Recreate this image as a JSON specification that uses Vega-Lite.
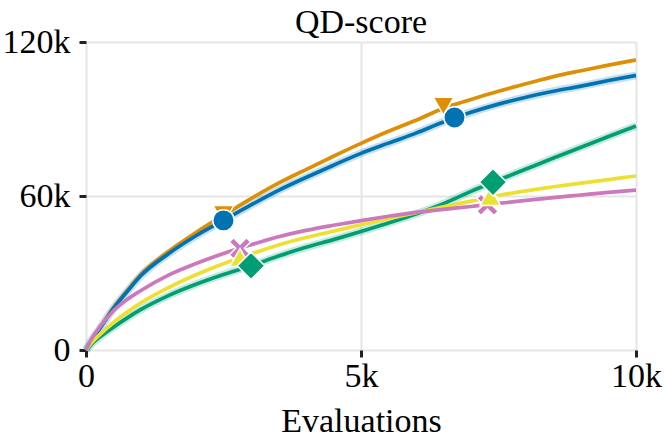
{
  "$schema": "https://vega.github.io/schema/vega-lite/v6.json",
  "width": 550,
  "height": 308,
  "autosize": {"type": "none"},
  "padding": {"left": 86, "top": 42, "right": 28, "bottom": 89},
  "background": "white",
  "title": {"text": "QD-score", "fontSize": 34, "font": "Liberation Serif", "fontWeight": "normal", "color": "black", "offset": -15},
  "datasets": {
    "curves": [
      {"s": "A", "e": 0, "v": 0}, {"s": "A", "e": 100, "v": 3900}, {"s": "A", "e": 250, "v": 8600}, {"s": "A", "e": 500, "v": 16500},
      {"s": "A", "e": 750, "v": 23200}, {"s": "A", "e": 1000, "v": 29500},
      {"s": "A", "e": 1500, "v": 38400}, {"s": "A", "e": 2000, "v": 45800}, {"s": "A", "e": 2500, "v": 52500}, {"s": "A", "e": 3000, "v": 59000},
      {"s": "A", "e": 3500, "v": 65000}, {"s": "A", "e": 4000, "v": 70300}, {"s": "A", "e": 4500, "v": 75500}, {"s": "A", "e": 5000, "v": 80500},
      {"s": "A", "e": 5500, "v": 85200}, {"s": "A", "e": 6000, "v": 89500}, {"s": "A", "e": 6500, "v": 94200}, {"s": "A", "e": 7000, "v": 97600},
      {"s": "A", "e": 7500, "v": 100800}, {"s": "A", "e": 8000, "v": 103700}, {"s": "A", "e": 8500, "v": 106500}, {"s": "A", "e": 9000, "v": 108800},
      {"s": "A", "e": 9500, "v": 111000}, {"s": "A", "e": 10000, "v": 113000},
      {"s": "B", "e": 0, "v": 0}, {"s": "B", "e": 100, "v": 3800}, {"s": "B", "e": 250, "v": 8300}, {"s": "B", "e": 500, "v": 16200},
      {"s": "B", "e": 750, "v": 22800}, {"s": "B", "e": 1000, "v": 29000},
      {"s": "B", "e": 1500, "v": 37500}, {"s": "B", "e": 2000, "v": 44500}, {"s": "B", "e": 2500, "v": 50500}, {"s": "B", "e": 3000, "v": 56500},
      {"s": "B", "e": 3500, "v": 62200}, {"s": "B", "e": 4000, "v": 67200}, {"s": "B", "e": 4500, "v": 72000}, {"s": "B", "e": 5000, "v": 76600},
      {"s": "B", "e": 5500, "v": 80600}, {"s": "B", "e": 6000, "v": 84500}, {"s": "B", "e": 6500, "v": 88800}, {"s": "B", "e": 7000, "v": 92600},
      {"s": "B", "e": 7500, "v": 95800}, {"s": "B", "e": 8000, "v": 98500}, {"s": "B", "e": 8500, "v": 100800}, {"s": "B", "e": 9000, "v": 102800},
      {"s": "B", "e": 9500, "v": 105000}, {"s": "B", "e": 10000, "v": 107000},
      {"s": "C", "e": 0, "v": 0}, {"s": "C", "e": 100, "v": 2300}, {"s": "C", "e": 250, "v": 5000}, {"s": "C", "e": 500, "v": 8900},
      {"s": "C", "e": 750, "v": 12500}, {"s": "C", "e": 1000, "v": 15800},
      {"s": "C", "e": 1500, "v": 21200}, {"s": "C", "e": 2000, "v": 25600}, {"s": "C", "e": 2500, "v": 29400}, {"s": "C", "e": 3000, "v": 32800},
      {"s": "C", "e": 3500, "v": 36600}, {"s": "C", "e": 4000, "v": 40000}, {"s": "C", "e": 4500, "v": 43000}, {"s": "C", "e": 5000, "v": 46200},
      {"s": "C", "e": 5500, "v": 49500}, {"s": "C", "e": 6000, "v": 53000}, {"s": "C", "e": 6500, "v": 57000}, {"s": "C", "e": 7000, "v": 61800},
      {"s": "C", "e": 7500, "v": 66200}, {"s": "C", "e": 8000, "v": 70500}, {"s": "C", "e": 8500, "v": 74800}, {"s": "C", "e": 9000, "v": 79000},
      {"s": "C", "e": 9500, "v": 83200}, {"s": "C", "e": 10000, "v": 87300},
      {"s": "D", "e": 0, "v": 0}, {"s": "D", "e": 100, "v": 2800}, {"s": "D", "e": 250, "v": 6000}, {"s": "D", "e": 500, "v": 10700},
      {"s": "D", "e": 750, "v": 14800}, {"s": "D", "e": 1000, "v": 18400},
      {"s": "D", "e": 1500, "v": 24300}, {"s": "D", "e": 2000, "v": 29300}, {"s": "D", "e": 2500, "v": 33600}, {"s": "D", "e": 3000, "v": 37400},
      {"s": "D", "e": 3500, "v": 40900}, {"s": "D", "e": 4000, "v": 43800}, {"s": "D", "e": 4500, "v": 46300}, {"s": "D", "e": 5000, "v": 48800},
      {"s": "D", "e": 5500, "v": 51200}, {"s": "D", "e": 6000, "v": 53500}, {"s": "D", "e": 6500, "v": 55800}, {"s": "D", "e": 7000, "v": 58000},
      {"s": "D", "e": 7500, "v": 60200}, {"s": "D", "e": 8000, "v": 62000}, {"s": "D", "e": 8500, "v": 63600}, {"s": "D", "e": 9000, "v": 65000},
      {"s": "D", "e": 9500, "v": 66400}, {"s": "D", "e": 10000, "v": 67800},
      {"s": "E", "e": 0, "v": 0}, {"s": "E", "e": 100, "v": 4300}, {"s": "E", "e": 250, "v": 9000}, {"s": "E", "e": 500, "v": 15300},
      {"s": "E", "e": 750, "v": 19700}, {"s": "E", "e": 1000, "v": 23200},
      {"s": "E", "e": 1500, "v": 29200}, {"s": "E", "e": 2000, "v": 33700}, {"s": "E", "e": 2500, "v": 37600}, {"s": "E", "e": 3000, "v": 41000},
      {"s": "E", "e": 3500, "v": 44100}, {"s": "E", "e": 4000, "v": 46600}, {"s": "E", "e": 4500, "v": 48600}, {"s": "E", "e": 5000, "v": 50400},
      {"s": "E", "e": 5500, "v": 52100}, {"s": "E", "e": 6000, "v": 53600}, {"s": "E", "e": 6500, "v": 54800}, {"s": "E", "e": 7000, "v": 55900},
      {"s": "E", "e": 7500, "v": 57100}, {"s": "E", "e": 8000, "v": 58300}, {"s": "E", "e": 8500, "v": 59400}, {"s": "E", "e": 9000, "v": 60400},
      {"s": "E", "e": 9500, "v": 61400}, {"s": "E", "e": 10000, "v": 62300}
    ],
    "markers": [
      {"s": "E", "e": 2800, "v": 39600},
      {"s": "D", "e": 2800, "v": 36000},
      {"s": "E", "e": 7300, "v": 56600},
      {"s": "D", "e": 7350, "v": 59800},
      {"s": "C", "e": 3000, "v": 32800},
      {"s": "C", "e": 7400, "v": 65400},
      {"s": "A", "e": 2500, "v": 52800},
      {"s": "A", "e": 6500, "v": 95000},
      {"s": "B", "e": 2500, "v": 50500},
      {"s": "B", "e": 6700, "v": 90600}
    ]
  },
  "encoding": {
    "x": {
      "field": "e", "type": "quantitative", "title": "Evaluations",
      "scale": {"domain": [0, 10000], "nice": false},
      "axis": {"values": [0, 5000, 10000], "labelExpr": "datum.value == 0 ? '0' : (datum.value / 1000) + 'k'"}
    },
    "y": {
      "field": "v", "type": "quantitative", "title": null,
      "scale": {"domain": [0, 120000], "nice": false},
      "axis": {"values": [0, 60000, 120000], "labelExpr": "datum.value == 0 ? '0' : (datum.value / 1000) + 'k'"}
    },
    "color": {
      "field": "s", "type": "nominal", "legend": null,
      "scale": {"domain": ["A", "B", "C", "D", "E"], "range": ["#de8f05", "#0173b2", "#029e73", "#ece133", "#cc78bc"]}
    }
  },
  "layer": [
    {
      "data": {"name": "curves"},
      "transform": [{"filter": "datum.s == 'B' || datum.s == 'C'"}],
      "mark": {"type": "line", "strokeWidth": 8, "opacity": 0.22, "interpolate": "monotone"}
    },
    {
      "data": {"name": "curves"},
      "mark": {"type": "line", "strokeWidth": 3.7, "interpolate": "monotone"}
    },
    {
      "data": {"name": "markers"},
      "mark": {"type": "point", "filled": true, "opacity": 1, "stroke": "white", "strokeWidth": 1.5},
      "encoding": {
        "shape": {
          "field": "s", "type": "nominal", "legend": null,
          "scale": {"domain": ["A", "B", "C", "D", "E"], "range": ["triangle-down", "circle", "diamond", "triangle-up", "M-1,-0.6L-0.6,-1L0,-0.4L0.6,-1L1,-0.6L0.4,0L1,0.6L0.6,1L0,0.4L-0.6,1L-1,0.6L-0.4,0Z"]}
        },
        "size": {
          "field": "s", "type": "nominal", "legend": null,
          "scale": {"type": "ordinal", "domain": ["A", "B", "C", "D", "E"], "range": [430, 460, 760, 430, 460]}
        }
      }
    }
  ],
  "config": {
    "font": "Liberation Serif",
    "view": {"stroke": null},
    "axis": {
      "domain": false,
      "grid": true,
      "gridColor": "#e5e5e5",
      "gridWidth": 2,
      "tickColor": "#222222",
      "tickWidth": 3,
      "tickSize": 7,
      "labelFlush": false,
      "labelFont": "Liberation Serif",
      "labelFontSize": 34,
      "labelColor": "black",
      "titleFont": "Liberation Serif",
      "titleFontSize": 34,
      "titleFontWeight": "normal",
      "titleColor": "black"
    },
    "axisY": {"labelPadding": 9},
    "axisX": {"labelPadding": 2, "titlePadding": 11}
  }
}
